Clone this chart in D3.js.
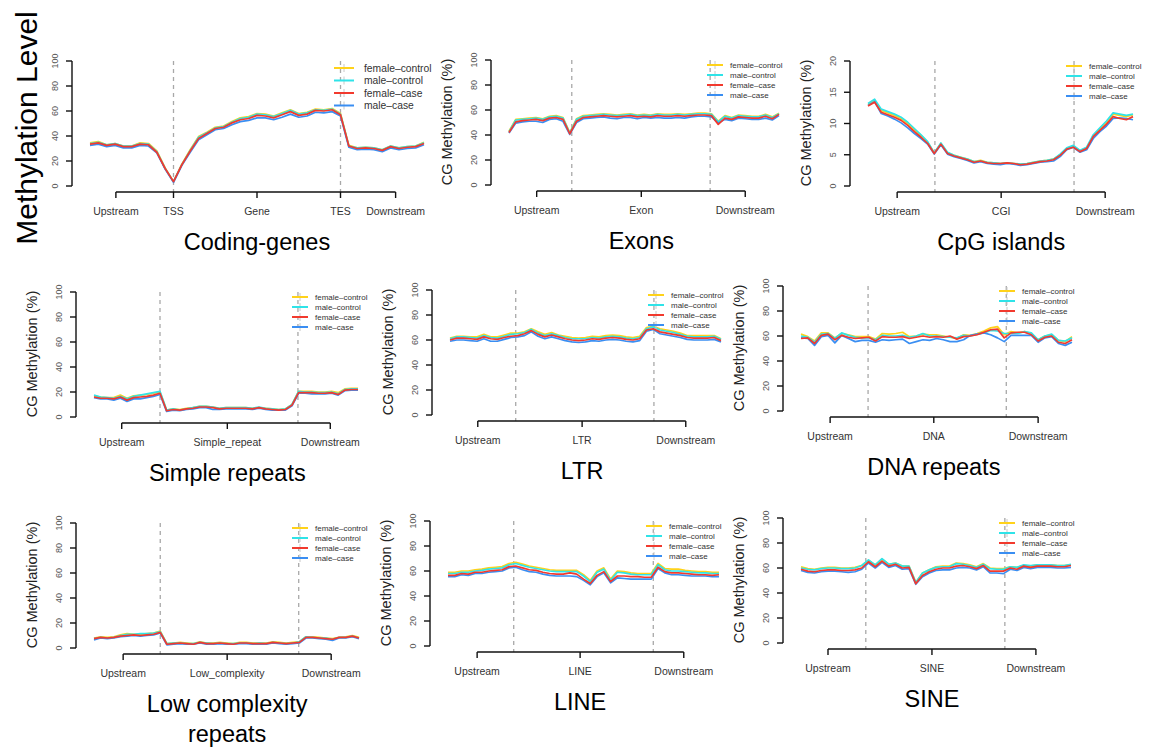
<!DOCTYPE html>
<html>
<script src="https://d3js.org/d3.v7.min.js"></script>
<style>
    body { margin: 0; background: #fff; }
    text { font-family: "Liberation Sans", Arial, Helvetica, sans-serif; }
</style>
<body>
<svg width="1151" height="748"></svg>
<script>
    const seriesNames = ["female\u2013control", "male\u2013control", "female\u2013case", "male\u2013case"];
    const seriesColors = ["#FFD21A", "#2FE3E8", "#F23A2E", "#3A8EF2"];

    // coding genes
    const codingFemaleControl = [34.5, 35.5, 33, 34, 32, 32, 34.5, 34, 28, 14.5, 3.5, 17.5, 29, 39.5, 43, 47, 48, 51.5, 54.5, 55.5, 58, 57.5, 56, 58.5, 61, 58, 59, 61.5, 61, 62, 58, 32.5, 30.5, 31, 30.5, 29, 32, 30.5, 31.5, 32, 35];
    const codingMaleControl = [34, 35, 33, 34, 32, 32, 34, 33.5, 27.5, 14, 3.5, 17, 28.5, 39, 42.5, 46.5, 47.5, 51, 54, 55, 57.5, 57, 55.5, 58, 60.5, 57.5, 58.5, 61, 60.5, 61.5, 57.5, 32, 30.5, 31, 30.5, 29, 32, 30.5, 31.5, 32, 34.5];
    const codingFemaleCase = [33.5, 34.5, 32.5, 33.5, 31.5, 31.5, 33.5, 33, 27, 14, 3.5, 17, 28, 38, 42, 46, 47, 50.5, 53, 54, 56.5, 56, 54.5, 57, 59.5, 56.5, 57.5, 60.5, 60, 61, 57, 32, 30, 30.5, 30, 28.5, 31.5, 30, 31, 31.5, 34];
    const codingMaleCase = [32.5, 33.5, 31.5, 32.5, 30.5, 30.5, 32.5, 32, 26.5, 13.5, 3, 16.5, 27, 37, 41, 45, 46, 49, 51.5, 52.5, 54.5, 54.5, 53, 55, 57.5, 55, 56, 59, 58.5, 59.5, 56, 31, 29, 29.5, 29, 27.5, 30.5, 29, 30, 30.5, 33];

    // exons
    const exonFemaleControl = [43, 52.5, 53, 53.5, 54, 53, 55, 55.5, 54, 42, 53, 55.5, 56, 56.5, 57, 56.5, 56, 56.5, 57, 56, 56.5, 56, 57, 56.5, 56.5, 57, 56.5, 57, 57.5, 57.5, 57, 51, 55.5, 54, 56, 55.5, 55, 55, 56.5, 54.5, 57.5];
    const exonMaleControl = [42.5, 52, 52.5, 53, 53.5, 52.5, 54.5, 55, 53.5, 41.5, 52.5, 55, 55.5, 56, 56.5, 56, 55.5, 56, 56.5, 55.5, 56, 55.5, 56.5, 56, 56, 56.5, 56, 56.5, 57, 57, 56.5, 50.5, 55, 53.5, 55.5, 55, 54.5, 54.5, 56, 54, 57];
    const exonFemaleCase = [42, 50.5, 51.5, 52, 52.5, 51.5, 53.5, 54, 52.5, 41, 51, 54, 54.5, 55, 55.5, 55, 54.5, 55, 55.5, 54.5, 55, 54.5, 55.5, 55, 55, 55.5, 55, 55.5, 56, 56, 55.5, 48.5, 53.5, 52.5, 54.5, 54, 53.5, 53.5, 55, 53, 56.5];
    const exonMaleCase = [41.5, 49.5, 50.5, 51, 51, 50, 52.5, 53, 51, 40.5, 50, 53, 53.5, 54, 54.5, 53.5, 53, 54, 54, 53, 54, 53.5, 54, 53.5, 53.5, 54, 53.5, 54.5, 55, 55, 54.5, 49.5, 52.5, 51.5, 53.5, 53, 52.5, 52.5, 53.5, 52, 55.5];

    // CpG islands
    const cgiFemaleControl = [13.0, 13.7, 12.1, 11.7, 11.3, 10.8, 10.0, 9.0, 8.1, 7.0, 5.3, 6.8, 5.3, 4.9, 4.6, 4.3, 3.9, 4.1, 3.8, 3.7, 3.6, 3.7, 3.6, 3.5, 3.6, 3.8, 4.0, 4.1, 4.3, 5.0, 6.0, 6.4, 5.6, 6.1, 8.0, 9.1, 10.2, 11.5, 11.3, 11.1, 11.4];
    const cgiMaleControl = [13.2, 13.9, 12.3, 11.9, 11.5, 11.0, 10.2, 9.2, 8.2, 7.1, 5.3, 6.9, 5.4, 4.9, 4.6, 4.3, 3.9, 4.0, 3.8, 3.7, 3.6, 3.7, 3.6, 3.5, 3.6, 3.8, 4.0, 4.1, 4.3, 5.1, 6.1, 6.5, 5.7, 6.2, 8.2, 9.3, 10.4, 11.7, 11.5, 11.3, 11.5];
    const cgiFemaleCase = [12.8, 13.4, 11.8, 11.4, 11.0, 10.5, 9.7, 8.7, 7.8, 6.8, 5.2, 6.7, 5.2, 4.8, 4.5, 4.2, 3.8, 4.0, 3.7, 3.6, 3.6, 3.7, 3.6, 3.4, 3.5, 3.7, 3.9, 4.0, 4.2, 4.9, 5.9, 6.2, 5.5, 6.0, 7.9, 8.9, 9.9, 11.1, 10.8, 10.6, 11.1];
    const cgiMaleCase = [12.9, 13.5, 11.6, 11.2, 10.7, 10.1, 9.3, 8.4, 7.6, 6.7, 5.1, 6.6, 5.1, 4.7, 4.4, 4.1, 3.7, 3.9, 3.6, 3.5, 3.4, 3.6, 3.5, 3.3, 3.4, 3.6, 3.8, 3.9, 4.0, 4.7, 5.8, 6.2, 5.4, 5.8, 7.6, 8.7, 9.6, 10.8, 10.9, 10.8, 10.6];

    // simple repeats
    const simpleFemaleControl = [17, 16, 15.5, 15.5, 17.5, 15, 17, 17.5, 18, 19, 20, 5.5, 6.5, 6, 7, 7.5, 8.5, 8.5, 8, 7, 7.5, 7.5, 7.5, 7.5, 7, 7.5, 7, 6.5, 6, 6.5, 10, 20.5, 20.5, 20.5, 20, 20, 20.5, 19.5, 22.5, 23, 23];
    const simpleMaleControl = [17.5, 16, 15.5, 15, 16.5, 14.5, 16.5, 17.5, 18.5, 19.5, 20.5, 5.5, 6.5, 5.5, 6.5, 7.5, 8.5, 8.5, 8, 7, 7.5, 7.5, 7.5, 7.5, 7, 8, 7, 6.5, 6, 6.5, 10, 20.5, 20, 20, 19.5, 19.5, 20, 18.5, 22, 22.5, 22.5];
    const simpleFemaleCase = [16, 15, 15, 14.5, 16, 13.5, 15.5, 16, 16.5, 17.5, 19, 5, 6, 5.5, 6.5, 7, 8, 8, 7.5, 6.5, 7, 7, 7, 7, 6.5, 7.5, 6.5, 6, 5.5, 6, 9.5, 19.5, 19.5, 19.5, 19, 19, 19.5, 18, 21.5, 22, 22];
    const simpleMaleCase = [15.5, 14.5, 14.5, 13.5, 15, 12.5, 14.5, 14.5, 15.5, 16.5, 18, 4.5, 5.5, 5, 6, 6.5, 7.5, 7.5, 6, 6, 6.5, 6.5, 6.5, 6.5, 6, 7, 6, 5.5, 5.5, 5.5, 9, 19, 19, 18.5, 18.5, 18.5, 19, 17.5, 21, 21.5, 21.5];

    // LTR
    const ltrFemaleControl = [61.5, 63, 63, 62.5, 62.5, 64.5, 62.5, 62.5, 64, 65.5, 65.5, 66.5, 69, 66.5, 64.5, 66, 64, 63, 62, 61.5, 62, 63, 62.5, 63.5, 64, 63.5, 62.5, 62, 63, 70, 71, 69, 68, 67, 65.5, 63.5, 63.5, 63.5, 63.5, 63.5, 61];
    const ltrMaleControl = [61, 62.5, 62.5, 62, 61.5, 63.5, 62, 61.5, 63, 64.5, 65, 66, 68.5, 65.5, 63.5, 65, 63.5, 62, 61, 61, 61, 62, 61.5, 62.5, 63, 62.5, 61.5, 61, 62, 69, 70.5, 68, 67, 66, 64.5, 63, 62.5, 62.5, 62.5, 63, 60.5];
    const ltrFemaleCase = [60, 61.5, 61.5, 61, 60.5, 62.5, 61, 60.5, 62, 63, 63.5, 65, 67.5, 64.5, 62.5, 64, 62.5, 61, 60, 59.5, 60, 61, 60.5, 61.5, 62, 61.5, 60.5, 60, 61, 68, 69, 66.5, 65.5, 64.5, 63.5, 62, 61.5, 61.5, 61.5, 62, 59.5];
    const ltrMaleCase = [59, 60, 60, 59.5, 59, 61, 59, 59, 60.5, 62, 62.5, 63.5, 66.5, 63, 61, 62.5, 61, 59.5, 58.5, 58, 58.5, 59.5, 59, 60, 60.5, 60, 59, 58.5, 59.5, 67, 68.5, 65, 64, 63, 62, 60.5, 60, 60, 60, 60.5, 58.5];

    // DNA repeats
    const dnaFemaleControl = [61.5, 59.5, 56, 62.5, 62.5, 58.5, 62, 61, 59.5, 59.5, 59.5, 57.5, 62, 61.5, 62, 63, 59.5, 60, 61.5, 61, 61, 60, 59, 58, 61, 60.5, 62, 64, 66.5, 67.5, 61, 63.5, 62.5, 63.5, 62, 57, 60, 61, 56.5, 55.5, 59.5];
    const dnaMaleControl = [60, 59, 55, 61.5, 62, 58, 62.5, 60.5, 59, 58.5, 58.5, 57, 60.5, 60, 60, 60.5, 59, 60, 62, 60, 60, 59.5, 59, 58.5, 60.5, 60, 61.5, 62.5, 64.5, 64, 62, 62, 62, 63.5, 62.5, 57, 60, 61.5, 56.5, 56, 58.5];
    const dnaFemaleCase = [58, 58.5, 54, 60.5, 61.5, 57, 60.5, 59, 58, 58.5, 59, 56, 59.5, 59, 59, 59.5, 58, 59, 60, 59, 59.5, 59, 60, 57.5, 59.5, 60, 61, 63, 65, 65.5, 58.5, 62.5, 63, 63, 61, 56, 59, 60, 55, 54, 57];
    const dnaMaleCase = [58.5, 58, 52.5, 59.5, 60.5, 54.5, 60.5, 58, 55.5, 56.5, 56.5, 55, 57, 56.5, 57, 57.5, 54, 55.5, 57, 56.5, 58, 57, 55.5, 55.5, 57, 60.5, 61.5, 62.5, 61, 58.5, 55.5, 60.5, 60.5, 60.5, 60.5, 55, 58.5, 59.5, 54, 52.5, 55];

    // low complexity repeats
    const lowFemaleControl = [8, 9, 8.5, 9, 10.5, 11.5, 11, 11, 11.5, 12, 13.5, 3.5, 4, 4.5, 4, 3.5, 5, 4, 4, 4.5, 4, 3.5, 4.5, 4.5, 4, 4, 4, 5, 4.5, 4, 4.5, 5, 9, 9, 8.5, 8, 7.5, 8.5, 9, 10, 8.5];
    const lowMaleControl = [7.5, 8.5, 8, 8.5, 10, 11, 11, 11.5, 11.5, 12, 13, 3.5, 4, 4, 3.5, 3.5, 4.5, 4, 3.5, 4, 3.5, 3.5, 4, 4, 3.5, 4, 3.5, 4.5, 4, 3.5, 4, 5, 9, 8.5, 8, 8, 7, 8.5, 8.5, 9.5, 8];
    const lowFemaleCase = [7.5, 8.5, 8, 8.5, 9.5, 10, 10.5, 10, 10.5, 11, 12.5, 3, 3.5, 4, 3.5, 3, 4.5, 3.5, 3.5, 4, 3.5, 3, 4, 4, 3.5, 3.5, 3.5, 4.5, 4, 3.5, 4, 4.5, 8.5, 8.5, 8, 7.5, 7, 8.5, 8.5, 9.5, 8];
    const lowMaleCase = [6.5, 8, 7.5, 8, 9, 9.5, 10, 9.5, 10, 10.5, 12, 2.5, 3, 3.5, 3, 3, 4, 3, 3, 3.5, 3, 3, 3.5, 3.5, 3, 3, 3, 4, 3.5, 3, 3.5, 4, 8, 8, 7.5, 7, 6, 8, 8, 9, 7.5];

    // LINE
    const lineFemaleControl = [59, 59, 60, 60, 61, 61.5, 62.5, 63, 63.5, 66, 67, 65.5, 64, 63, 62, 61, 60.5, 60.5, 60.5, 60.5, 57, 52.5, 60, 62.5, 53.5, 60, 59.5, 58.5, 58, 58, 58, 66, 62, 61.5, 61.5, 60.5, 60, 59.5, 59.5, 59, 59];
    const lineMaleControl = [58, 58, 59, 59, 60, 60.5, 61.5, 62, 62.5, 65, 66, 64.5, 63, 62, 61, 60, 59.5, 59.5, 59.5, 59.5, 56, 51.5, 59, 61.5, 52.5, 59, 58.5, 57.5, 57, 57, 57, 65, 61, 60, 60, 59.5, 59, 58.5, 58.5, 58, 58];
    const lineFemaleCase = [56.5, 56.5, 58, 57.5, 59, 59, 60, 60.5, 61, 63.5, 64, 62.5, 61, 60.5, 59, 58, 57.5, 57.5, 58.5, 57.5, 53.5, 50, 56.5, 59.5, 51.5, 56, 56, 55.5, 55.5, 55, 55, 63, 59.5, 58.5, 58.5, 58, 57.5, 57, 57, 56.5, 57];
    const lineMaleCase = [55.5, 55.5, 57, 56.5, 58, 58, 59, 59.5, 60, 62.5, 63, 61, 59.5, 59, 57.5, 56.5, 56, 56, 56, 55.5, 52.5, 49, 55.5, 58.5, 50.5, 54.5, 54, 53.5, 53.5, 53.5, 53.5, 62, 58.5, 57, 57, 56.5, 56, 56, 56, 55.5, 55.5];

    // SINE
    const sineFemaleControl = [61, 59.5, 59, 60, 60.5, 60.5, 60, 60, 60.5, 62, 66, 62.5, 67, 63, 64, 61.5, 61.5, 48.5, 56, 58.5, 61, 61.5, 61.5, 64, 63.5, 62.5, 61, 63.5, 60, 59.5, 59.5, 61, 60.5, 62, 61.5, 62.5, 62.5, 62.5, 62, 62, 62.5];
    const sineMaleControl = [60, 59, 58.5, 59.5, 60, 60, 59.5, 59.5, 60, 62, 66.5, 62.5, 67.5, 63, 64, 61.5, 61.5, 48.5, 56, 58.5, 60.5, 61, 61, 63.5, 63, 62, 60.5, 63, 59.5, 59, 59, 61, 60.5, 62.5, 62, 62.5, 62.5, 62.5, 62, 62, 63];
    const sineFemaleCase = [59, 57.5, 57, 58, 58.5, 58.5, 58, 58, 58.5, 60, 65, 61, 65.5, 61.5, 63, 60, 60.5, 47.5, 54, 57, 59, 60, 60, 61.5, 62, 61, 59.5, 62, 57.5, 57.5, 57.5, 60, 59, 61.5, 60.5, 61.5, 61.5, 61.5, 61, 61, 62];
    const sineMaleCase = [58, 56.5, 56, 57, 57.5, 57.5, 57, 56.5, 57, 59, 64, 60, 64.5, 60.5, 62, 59, 59.5, 47, 53, 56, 58, 58.5, 58.5, 60, 60.5, 60, 58.5, 61, 56, 56, 55.5, 59, 58, 60.5, 59.5, 60.5, 60.5, 60.5, 60, 60, 60.5];

    const pctTicks = [0, 20, 40, 60, 80, 100];
    const cgiTicks = [0, 5, 10, 15, 20];
    const flankLabels = ["Upstream", null, "Downstream"];

    const panels = [
        { title: ["Coding-genes"], ylab: false, yMax: 100, yTicks: pctTicks,
          xTicks: [3.1, 10, 20, 30, 36.6], xLabels: ["Upstream", "TSS", "Gene", "TES", "Downstream"], dashes: [10, 30],
          data: [codingFemaleControl, codingMaleControl, codingFemaleCase, codingMaleCase],
          ax: 72, top: 61, w: 334, big: true },
        { title: ["Exons"], ylab: true, yMax: 100, yTicks: pctTicks,
          xTicks: [4.1, 19.6, 35], xLabels: ["Upstream", "Exon", "Downstream"], dashes: [9.3, 29.8],
          data: [exonFemaleControl, exonMaleControl, exonFemaleCase, exonMaleCase],
          ax: 491, top: 60, w: 270 },
        { title: ["CpG islands"], ylab: true, yMax: 20, yTicks: cgiTicks,
          xTicks: [4.4, 20.1, 35.8], xLabels: ["Upstream", "CGI", "Downstream"], dashes: [10.1, 31.1],
          data: [cgiFemaleControl, cgiMaleControl, cgiFemaleCase, cgiMaleCase],
          ax: 850, top: 61, w: 265 },
        { title: ["Simple repeats"], ylab: true, yMax: 100, yTicks: pctTicks,
          xTicks: [4.2, 20.2, 35.8], xLabels: ["Upstream", "Simple_repeat", "Downstream"], dashes: [10, 30.9],
          data: [simpleFemaleControl, simpleMaleControl, simpleFemaleCase, simpleMaleCase],
          ax: 76, top: 292, w: 264 },
        { title: ["LTR"], ylab: true, yMax: 100, yTicks: pctTicks,
          xTicks: [4.1, 19.5, 34.8], xLabels: ["Upstream", "LTR", "Downstream"], dashes: [9.7, 30.1],
          data: [ltrFemaleControl, ltrMaleControl, ltrFemaleCase, ltrMaleCase],
          ax: 432, top: 290, w: 271 },
        { title: ["DNA repeats"], ylab: true, yMax: 100, yTicks: pctTicks,
          xTicks: [4.3, 19.6, 35], xLabels: ["Upstream", "DNA", "Downstream"], dashes: [9.9, 30.3],
          data: [dnaFemaleControl, dnaMaleControl, dnaFemaleCase, dnaMaleCase],
          ax: 783, top: 286, w: 271 },
        { title: ["Low complexity", "repeats"], ylab: true, yMax: 100, yTicks: pctTicks,
          xTicks: [4.4, 20.1, 35.8], xLabels: ["Upstream", "Low_complexity", "Downstream"], dashes: [10, 30.9],
          data: [lowFemaleControl, lowMaleControl, lowFemaleCase, lowMaleCase],
          ax: 76, top: 523, w: 265 },
        { title: ["LINE"], ylab: true, yMax: 100, yTicks: pctTicks,
          xTicks: [4.3, 19.5, 34.8], xLabels: ["Upstream", "LINE", "Downstream"], dashes: [9.7, 30.3],
          data: [lineFemaleControl, lineMaleControl, lineFemaleCase, lineMaleCase],
          ax: 430, top: 521, w: 271 },
        { title: ["SINE"], ylab: true, yMax: 100, yTicks: pctTicks,
          xTicks: [4, 19.4, 34.8], xLabels: ["Upstream", "SINE", "Downstream"], dashes: [9.6, 30.2],
          data: [sineFemaleControl, sineMaleControl, sineFemaleCase, sineMaleCase],
          ax: 783, top: 518, w: 270 }
    ];

    const drawOrder = [0, 1, 3, 2];
    const svg = d3.select('svg');

    svg.append('text')
        .attr('transform', 'translate(37,128) rotate(-90)')
        .attr('text-anchor', 'middle')
        .style('font-size', '30px')
        .text('Methylation Level');

    panels.forEach(function (p) {
        const n = p.data[0].length;
        const x = d3.scaleLinear().domain([0, n - 1]).range([p.ax + 18, p.ax + 18 + p.w]);
        const y = d3.scaleLinear().domain([0, p.yMax]).range([p.top + 125, p.top]);
        const g = svg.append('g');
        const axisY = p.top + 131;

        // dashed boundaries
        g.selectAll('line.dash').data(p.dashes).enter().append('line')
            .attr('x1', d => x(d)).attr('x2', d => x(d))
            .attr('y1', p.top).attr('y2', axisY)
            .attr('stroke', '#a8a8a8').attr('stroke-width', 1.3)
            .attr('stroke-dasharray', '4,4');

        // y axis
        g.append('line')
            .attr('x1', p.ax).attr('x2', p.ax)
            .attr('y1', y(0)).attr('y2', y(p.yMax))
            .attr('stroke', '#111').attr('stroke-width', 1.4);
        g.selectAll('line.yt').data(p.yTicks).enter().append('line')
            .attr('x1', p.ax - 6).attr('x2', p.ax)
            .attr('y1', d => y(d)).attr('y2', d => y(d))
            .attr('stroke', '#111').attr('stroke-width', 1.4);
        g.selectAll('text.yt').data(p.yTicks).enter().append('text')
            .attr('transform', d => 'translate(' + (p.ax - 14) + ',' + y(d) + ') rotate(-90)')
            .attr('text-anchor', 'middle')
            .style('font-size', '9px').style('fill', '#555')
            .text(d => d);

        if (p.ylab) {
            g.append('text')
                .attr('transform', 'translate(' + (p.ax - 39) + ',' + (p.top + 62) + ') rotate(-90)')
                .attr('text-anchor', 'middle')
                .style('font-size', '14.5px').style('fill', '#222')
                .text('CG Methylation (%)');
        }

        // bottom axis
        g.append('line')
            .attr('x1', x(p.xTicks[0])).attr('x2', x(p.xTicks[p.xTicks.length - 1]))
            .attr('y1', axisY).attr('y2', axisY)
            .attr('stroke', '#111').attr('stroke-width', 1.4);
        g.selectAll('line.xt').data(p.xTicks).enter().append('line')
            .attr('x1', d => x(d)).attr('x2', d => x(d))
            .attr('y1', axisY).attr('y2', axisY + 6)
            .attr('stroke', '#111').attr('stroke-width', 1.4);
        g.selectAll('text.xt').data(p.xTicks).enter().append('text')
            .attr('x', d => x(d)).attr('y', p.top + 154)
            .attr('text-anchor', 'middle')
            .style('font-size', '10.5px').style('fill', '#333')
            .text((d, i) => p.xLabels[i]);

        // series lines
        const line = d3.line().x((d, i) => x(i)).y(d => y(d));
        drawOrder.forEach(function (k) {
            g.append('path')
                .datum(p.data[k])
                .attr('d', line)
                .attr('fill', 'none')
                .attr('stroke', seriesColors[k])
                .attr('stroke-width', 1.7)
                .attr('stroke-linejoin', 'round');
        });

        // legend
        const lg = p.big
            ? { x0: p.ax + 262, x1: p.ax + 282, tx: p.ax + 292, y0: p.top + 7, dy: 12.5, fs: 10.3 }
            : { x0: p.ax + 216, x1: p.ax + 232, tx: p.ax + 239, y0: p.top + 5, dy: 10, fs: 8 };
        seriesNames.forEach(function (name, k) {
            const ly = lg.y0 + k * lg.dy;
            g.append('line')
                .attr('x1', (lg.x0 + lg.x1) / 2).attr('x2', (lg.x0 + lg.x1) / 2)
                .attr('y1', ly - 4).attr('y2', ly + 4)
                .attr('stroke', '#c8c8c8').attr('stroke-width', 1);
            g.append('line')
                .attr('x1', lg.x0).attr('x2', lg.x1)
                .attr('y1', ly).attr('y2', ly)
                .attr('stroke', seriesColors[k]).attr('stroke-width', 2);
            g.append('text')
                .attr('x', lg.tx).attr('y', ly + lg.fs * 0.36)
                .style('font-size', lg.fs + 'px').style('fill', '#333')
                .text(name);
        });

        // panel title
        p.title.forEach(function (t, j) {
            g.append('text')
                .attr('x', x(p.xTicks[Math.floor(p.xTicks.length / 2)]))
                .attr('y', p.top + 189 + j * 30)
                .attr('text-anchor', 'middle')
                .style('font-size', '23.5px').style('fill', '#000')
                .text(t);
        });
    });
</script>
</body>
</html>
